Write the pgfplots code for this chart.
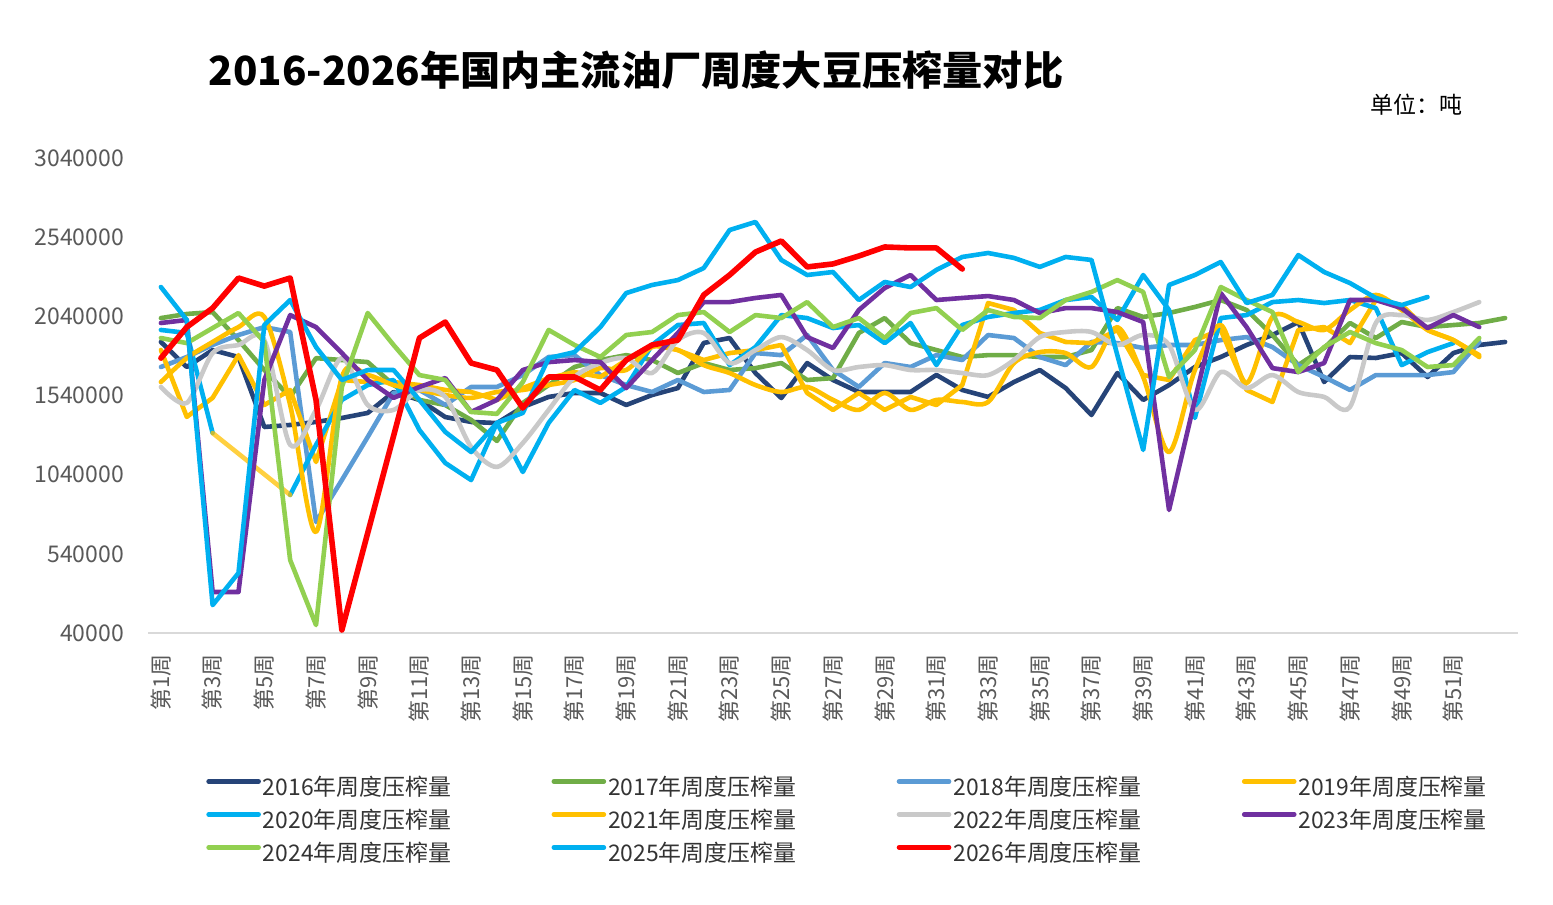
\documentclass[border=0pt]{standalone}
\usepackage{fontspec}
\setmainfont{Noto Sans CJK SC}
\usepackage{pgfplots}
\usepackage{pgfplotstable}
\pgfplotsset{compat=1.18}
\definecolor{c16}{HTML}{264478}
\definecolor{c17}{HTML}{70AD47}
\definecolor{c18}{HTML}{5B9BD5}
\definecolor{c19}{HTML}{FFC000}
\definecolor{c20}{HTML}{00B0F0}
\definecolor{c21}{HTML}{FFC000}
\definecolor{c22}{HTML}{C9C9C9}
\definecolor{c23}{HTML}{7030A0}
\definecolor{c24}{HTML}{92D050}
\definecolor{c25}{HTML}{00B0F0}
\definecolor{c26}{HTML}{FF0000}
\definecolor{tickgray}{HTML}{595959}
\definecolor{axgray}{HTML}{D9D9D9}

\pgfplotstableread{
w a16 a17 a18 a19 a20 a21 a22 a23 a24 a25 a26
1 1878000 2029000 1720000 1827000 1954000 1625000 1594000 1998000 1903000 2225000 1776000
2 1720000 2055000 1783000 1405000 1935000 1776000 1493000 2017000 1871000 2017000 1972000
3 1827000 2067000 1859000 1525000 1303000 1878000 1808000 299000 1966000 216000 2092000
4 1783000 1890000 1922000 1795000 nan 1972000 1859000 299000 2061000 419000 2282000
5 1341000 1701000 1972000 1480000 nan 2036000 1890000 1638000 1878000 1985000 2231000
6 1354000 1530000 1941000 1575000 912000 1480000 1228000 2048000 501000 2143000 2282000
7 1373000 1776000 741000 1120000 1228000 678000 1449000 1972000 90000 1846000 1512000
8 1398000 1764000 1006000 1638000 1512000 1657000 1776000 1808000 1594000 1638000 59000
9 1430000 1751000 1278000 1625000 1606000 1669000 1480000 1638000 2061000 1701000 672000
10 1562000 1606000 1556000 1625000 1638000 1606000 1449000 1525000 1859000 1701000 1284000
11 1512000 1512000 1575000 1606000 1322000 1575000 1575000 1594000 1669000 1512000 1903000
12 1404000 1480000 1480000 1575000 1114000 1543000 1531000 1650000 1638000 1310000 2004000
13 1373000 1386000 1594000 1562000 1006000 1525000 1215000 1436000 1436000 1183000 1745000
14 1366000 1253000 1594000 1512000 1367000 1562000 1089000 1512000 1424000 1367000 1701000
15 1467000 1493000 1669000 1587000 1057000 1575000 1240000 1701000 1625000 1430000 1461000
16 1531000 1606000 1783000 1650000 1367000 1606000 1449000 1751000 1954000 1776000 1657000
17 1556000 1720000 1795000 1688000 1575000 1638000 1657000 1764000 1859000 1814000 1657000
18 1556000 1764000 1669000 1657000 1493000 1713000 1745000 1751000 1783000 1972000 1575000
19 1480000 1795000 1606000 1764000 1594000 1701000 1776000 1587000 1922000 2187000 1764000
20 1543000 1764000 1562000 1859000 1859000 1846000 1682000 1764000 1941000 2238000 1859000
21 1587000 1682000 1638000 1827000 1985000 1827000 1890000 1935000 2048000 2269000 1890000
22 1872000 1745000 1562000 1764000 1998000 1732000 1935000 2130000 2067000 2345000 2175000
23 1903000 1701000 1575000 1808000 1732000 1682000 1745000 2130000 1941000 2585000 2301000
24 1682000 1713000 1808000 1827000 1846000 1606000 1827000 2156000 2048000 2636000 2446000
25 1524000 1745000 1795000 1859000 2048000 1562000 1909000 2175000 2029000 2396000 2516000
26 1745000 1638000 1922000 1556000 2029000 1594000 1827000 1909000 2130000 2301000 2352000
27 1638000 1650000 1701000 1449000 1966000 1512000 1701000 1840000 1972000 2320000 2371000
28 1562000 1935000 1594000 1556000 1985000 1449000 1720000 2080000 2029000 2143000 2421000
29 1562000 2029000 1745000 1449000 1871000 1556000 1732000 2219000 1903000 2257000 2478000
30 1562000 1871000 1720000 1531000 1998000 1449000 1701000 2301000 2061000 2225000 2472000
31 1670000 1827000 1795000 1480000 1732000 1512000 1701000 2143000 2092000 2333000 2472000
32 1575000 1783000 1764000 1606000 1985000 1499000 1682000 2156000 1954000 2415000 2339000
33 1531000 1795000 1922000 2124000 2036000 1499000 1669000 2168000 2080000 2440000 nan
34 1625000 1795000 1903000 2080000 2061000 1745000 1764000 2143000 2036000 2409000 nan
35 1701000 1783000 1783000 1935000 2080000 1814000 1909000 2061000 2029000 2352000 nan
36 1587000 1783000 1732000 1878000 2143000 1808000 1941000 2092000 2143000 2415000 nan
37 1417000 1827000 1878000 1871000 2162000 1720000 1941000 2092000 2194000 2396000 nan
38 1682000 2092000 1871000 1954000 2017000 1972000 1859000 2067000 2269000 1795000 nan
39 1512000 2036000 1840000 1669000 2301000 1657000 1922000 2004000 2194000 1196000 nan
40 1606000 2061000 1859000 1638000 2080000 1183000 1859000 817000 1657000 2238000 nan
41 1720000 2099000 1859000 1890000 1398000 1701000 1449000 1512000 1827000 2301000 nan
42 1783000 2143000 1890000 1954000 2029000 1985000 1688000 2187000 2225000 2383000 nan
43 1859000 2080000 1909000 1575000 2048000 1619000 1587000 1972000 2143000 2124000 nan
44 1922000 1922000 1846000 1499000 2130000 2036000 1669000 1713000 2067000 2175000 nan
45 2004000 1732000 1732000 1954000 2143000 2004000 1562000 1688000 1688000 2427000 nan
46 1625000 1840000 1657000 1972000 2124000 1954000 1531000 1745000 1846000 2320000 nan
47 1783000 1998000 1575000 1871000 2143000 2080000 1468000 2143000 1941000 2250000 nan
48 1777000 1903000 1669000 2143000 2092000 2175000 1998000 2143000 1871000 2156000 nan
49 1808000 2004000 1669000 2111000 1732000 2080000 2048000 2092000 1827000 2111000 nan
50 1657000 1972000 1669000 1954000 1814000 1954000 2017000 1966000 1720000 2162000 nan
51 1808000 1985000 1688000 1890000 1871000 1890000 2067000 2048000 1732000 nan nan
52 1859000 1998000 1878000 1795000 nan 1783000 2130000 1972000 1903000 nan nan
53 1878000 2029000 nan nan nan nan nan nan nan nan nan
}\datatable

\begin{document}
\begin{tikzpicture}
\useasboundingbox (0,0) rectangle (776.5pt,452.5pt);
\node[font=\fontsize{20.1}{24}\selectfont\bfseries] at (318pt,417.5pt) {2016-2026年国内主流油厂周度大豆压榨量对比};
\node[anchor=east, font=\fontsize{11.5}{14}\selectfont] at (735pt,400pt) {单位：吨};
\begin{axis}[
  at={(74pt,136pt)}, anchor=south west,
  width=685pt, height=237.5pt, scale only axis,
  xmin=0.5, xmax=53.5, ymin=40000, ymax=3040000,
  axis x line*=bottom, axis y line*=left,
  x axis line style={-, draw=axgray, line width=0.9pt},
  y axis line style={draw=none},
  major tick length=0pt,
  xtick={1,3,5,7,9,11,13,15,17,19,21,23,25,27,29,31,33,35,37,39,41,43,45,47,49,51},
  xticklabels={第1周,第3周,第5周,第7周,第9周,第11周,第13周,第15周,第17周,第19周,第21周,第23周,第25周,第27周,第29周,第31周,第33周,第35周,第37周,第39周,第41周,第43周,第45周,第47周,第49周,第51周},
  xticklabel style={rotate=90, anchor=east, text=tickgray, font=\fontsize{11}{13}\selectfont},
  xticklabel shift=7pt,
  ytick={40000,540000,1040000,1540000,2040000,2540000,3040000},
  scaled y ticks=false,
  yticklabel style={text=tickgray, font=\fontsize{11.5}{13}\selectfont, /pgf/number format/.cd, fixed, 1000 sep={}, assume math mode=true},
  yticklabel shift=8.5pt,
  unbounded coords=jump,
  every axis plot/.append style={line width=2.3pt, line join=round, line cap=round, no markers},
  legend columns=4,
  legend cell align=left,
  legend style={at={(0.0423,-0.3032)}, anchor=north west, draw=none, fill=none, inner sep=0pt,
    font=\fontsize{11.45}{13}\selectfont, text=black!80,
    nodes={inner sep=0pt, text width=144.3pt, align=left, text height=9pt, text depth=3pt},
    row sep=4.5pt,
    /tikz/every odd column/.append style={column sep=1pt},
    /tikz/every even column/.append style={column sep=0pt}},
  legend image code/.code={\draw[#1, line width=2.3pt, line cap=round] (0pt,4pt) -- (25pt,4pt);},
]
\addplot[c16] table[x=w, y=a16] {\datatable};
\addlegendentry{2016年周度压榨量}
\addplot[c17] table[x=w, y=a17] {\datatable};
\addlegendentry{2017年周度压榨量}
\addplot[c18] table[x=w, y=a18] {\datatable};
\addlegendentry{2018年周度压榨量}
\addplot[c19] table[x=w, y=a19] {\datatable};
\addlegendentry{2019年周度压榨量}
\addplot[c20] table[x=w, y=a20] {\datatable};
\addlegendentry{2020年周度压榨量}
\addplot[c19, opacity=0.75, forget plot] coordinates {(3,1303000) (6,912000)};
\addplot[c21, smooth] table[x=w, y=a21] {\datatable};
\addlegendentry{2021年周度压榨量}
\addplot[c22, smooth] table[x=w, y=a22] {\datatable};
\addlegendentry{2022年周度压榨量}
\addplot[c23] table[x=w, y=a23] {\datatable};
\addlegendentry{2023年周度压榨量}
\addplot[c24] table[x=w, y=a24] {\datatable};
\addlegendentry{2024年周度压榨量}
\addplot[c25] table[x=w, y=a25] {\datatable};
\addlegendentry{2025年周度压榨量}
\addplot[c26, line width=2.8pt] table[x=w, y=a26] {\datatable};
\addlegendentry{2026年周度压榨量}
\end{axis}
\end{tikzpicture}
\end{document}
